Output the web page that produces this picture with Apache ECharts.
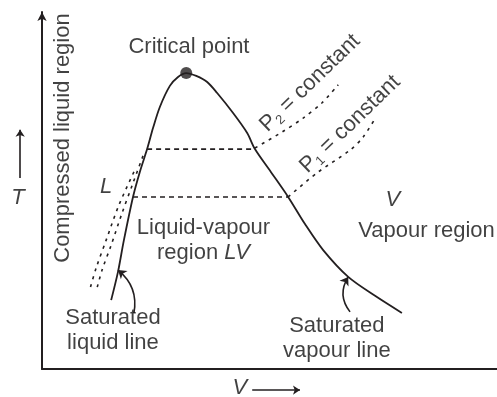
<!DOCTYPE html>
<html>
<head>
<meta charset="utf-8">
<script src="https://cdn.jsdelivr.net/npm/echarts@6/dist/echarts.min.js"></script>
<style>
  html, body { margin: 0; padding: 0; background: #ffffff; }
  #chart { width: 497px; height: 397px; }
</style>
</head>
<body>
<div id="chart"></div>
<script>
// T–V phase diagram of a pure substance (schematic units).

// Saturation dome: saturated liquid line -> critical point -> saturated vapour line
const domeV = [1.52, 1.67, 1.80, 2.00, 2.15, 2.31, 2.44, 2.59, 2.81, 2.99, 3.17, 3.39, 3.63, 3.85, 4.20, 4.51, 4.68, 5.03, 5.41, 5.78, 6.18, 6.73, 7.32, 7.91];
const domeT = [1.93, 2.72, 3.61, 4.82, 5.52, 6.16, 6.75, 7.34, 7.93, 8.18, 8.29, 8.21, 8.04, 7.73, 7.17, 6.61, 6.16, 5.52, 4.82, 4.06, 3.33, 2.58, 2.05, 1.57];
const criticalV = 3.17;
const criticalT = 8.29;

// Constant-pressure tie lines across the liquid-vapour region
const tieP2V = [2.31, 4.68];
const tieP2T = [6.16, 6.16];
const tieP1V = [2.00, 5.41];
const tieP1T = [4.82, 4.82];

// Isobars in the superheated vapour region
const vapourP2V = [4.68, 5.28, 5.74, 6.15, 6.51];
const vapourP2T = [6.19, 6.64, 7.03, 7.45, 7.96];
const vapourP1V = [5.41, 6.04, 6.77, 7.06, 7.34];
const vapourP1T = [4.82, 5.49, 6.13, 6.50, 7.06];

// Isobars in the compressed liquid region
const liquidP2V = [2.22, 2.00, 1.76, 1.52, 1.32, 1.21];
const liquidP2T = [5.97, 5.21, 4.37, 3.47, 2.77, 2.27];
const liquidP1V = [2.02, 1.69, 1.41, 1.19, 1.06];
const liquidP1T = [5.52, 4.59, 3.61, 2.83, 2.27];

// Pointer arrows (tail -> head) for the saturation line captions
const liquidPointer = [[2.02, 1.57], [1.67, 2.77]];
const vapourPointer = [[6.77, 1.60], [6.73, 2.58]];

// Arrows beside the axis symbols
const tArrow = [[-0.48, 5.35], [-0.48, 6.70]];
const vArrow = [[4.62, -0.59], [5.67, -0.59]];

// Text annotations and their anchors
const labelText = ['Critical point', 'P2 = constant', 'P1 = constant', 'L', 'V', 'Vapour region',
  'Liquid-vapour region LV', 'Saturated liquid line', 'Saturated vapour line', 'T', 'V ', 'Compressed liquid region'];
const labelV = [3.23, 5.89, 6.77, 1.41, 7.71, 6.95, 3.55, 1.56, 6.48, -0.53, 4.35, 0.46];
const labelT = [9.02, 8.01, 6.86, 5.10, 4.73, 3.87, 3.61, 1.09, 0.87, 4.79, -0.53, 6.47];

const INK = '#231f20';
const TEXT = '#111111';
const FONT = '"Liberation Sans", Arial, Helvetica, sans-serif';
const FS = 22;

const zip = (xs, ys) => xs.map((x, i) => [x, ys[i]]);

const rich = {
  n: { fontSize: FS, fontFamily: FONT, color: TEXT, lineHeight: 25 },
  s: { fontSize: 13, fontFamily: FONT, color: TEXT, lineHeight: 15, verticalAlign: 'bottom' },
  i: { fontSize: FS, fontFamily: FONT, color: TEXT, fontStyle: 'italic', lineHeight: 25 }
};

function labelStyle(text) {
  const base = { show: true, position: 'inside', color: TEXT, fontFamily: FONT, fontSize: FS,
    align: 'center', verticalAlign: 'middle', rich: rich };
  switch (text) {
    case 'P2 = constant':
      return Object.assign(base, { rotate: 44, formatter: '{n|P}{s|2}{n| = constant}' });
    case 'P1 = constant':
      return Object.assign(base, { rotate: 44, formatter: '{n|P}{s|1}{n| = constant}' });
    case 'L': case 'V': case 'T': case 'V ':
      return Object.assign(base, { formatter: '{i|' + text.trim() + '}' });
    case 'Vapour region':
      return Object.assign(base, { align: 'left', formatter: '{n|Vapour region}' });
    case 'Liquid-vapour region LV':
      return Object.assign(base, { formatter: '{n|Liquid-vapour}\n{n|region }{i|LV}' });
    case 'Saturated liquid line':
      return Object.assign(base, { formatter: '{n|Saturated}\n{n|liquid line}' });
    case 'Saturated vapour line':
      return Object.assign(base, { formatter: '{n|Saturated}\n{n|vapour line}' });
    case 'Compressed liquid region':
      return Object.assign(base, { rotate: 90, formatter: '{n|Compressed liquid region}' });
    default:
      return Object.assign(base, { formatter: '{n|' + text + '}' });
  }
}

const solid = { color: INK, width: 1.8 };
const dashed = { color: INK, width: 1.6, type: [5, 4] };
const dotted = { color: INK, width: 1.6, type: [3, 5] };

function curve(name, v, t, style, smooth) {
  return { name, type: 'line', data: zip(v, t), showSymbol: false, symbol: 'none',
    smooth: smooth, lineStyle: style, silent: true, clip: false, z: 3 };
}

function arrow(name, coords, curveness, size, width) {
  return { name, type: 'lines', coordinateSystem: 'cartesian2d', clip: false, silent: true, z: 4,
    symbol: ['none', 'arrow'], symbolSize: size,
    lineStyle: { color: INK, width: width, curveness: curveness, opacity: 1 },
    data: [{ coords: coords }] };
}

const chart = echarts.init(document.getElementById('chart'), null, { renderer: 'canvas' });

chart.setOption({
  animation: false,
  backgroundColor: '#ffffff',
  grid: { left: 42, right: 0, top: 12, bottom: 28, containLabel: false },
  xAxis: {
    type: 'value', min: 0, max: 10,
    axisLine: { show: true, onZero: false, lineStyle: { color: INK, width: 2 } },
    axisTick: { show: false }, axisLabel: { show: false }, splitLine: { show: false }
  },
  yAxis: {
    type: 'value', min: 0, max: 10,
    axisLine: { show: true, onZero: false, symbol: ['none', 'arrow'], symbolSize: [7, 9],
      lineStyle: { color: INK, width: 2 } },
    axisTick: { show: false }, axisLabel: { show: false }, splitLine: { show: false }
  },
  series: [
    curve('Saturation dome', domeV, domeT, solid, 0.3),
    curve('Tie line P2', tieP2V, tieP2T, dashed, false),
    curve('Tie line P1', tieP1V, tieP1T, dashed, false),
    curve('Vapour isobar P2', vapourP2V, vapourP2T, dotted, 0.3),
    curve('Vapour isobar P1', vapourP1V, vapourP1T, dotted, 0.3),
    curve('Liquid isobar P2', liquidP2V, liquidP2T, dotted, 0.3),
    curve('Liquid isobar P1', liquidP1V, liquidP1T, dotted, 0.3),
    {
      name: 'Critical point', type: 'scatter', silent: true, z: 5,
      symbol: 'circle', symbolSize: 12, itemStyle: { color: INK },
      data: [[criticalV, criticalT]]
    },
    arrow('Liquid pointer', liquidPointer, -0.3, 8, 1.6),
    arrow('Vapour pointer', vapourPointer, 0.35, 8, 1.6),
    arrow('T arrow', tArrow, 0, 7, 1.6),
    arrow('V arrow', vArrow, 0, 7, 1.6),
    {
      name: 'Annotations', type: 'scatter', silent: true, clip: false, z: 6,
      symbolSize: 1, itemStyle: { color: 'rgba(0,0,0,0)' },
      data: labelText.map((text, i) => ({ value: [labelV[i], labelT[i]], label: labelStyle(text) }))
    }
  ]
});
</script>
</body>
</html>
